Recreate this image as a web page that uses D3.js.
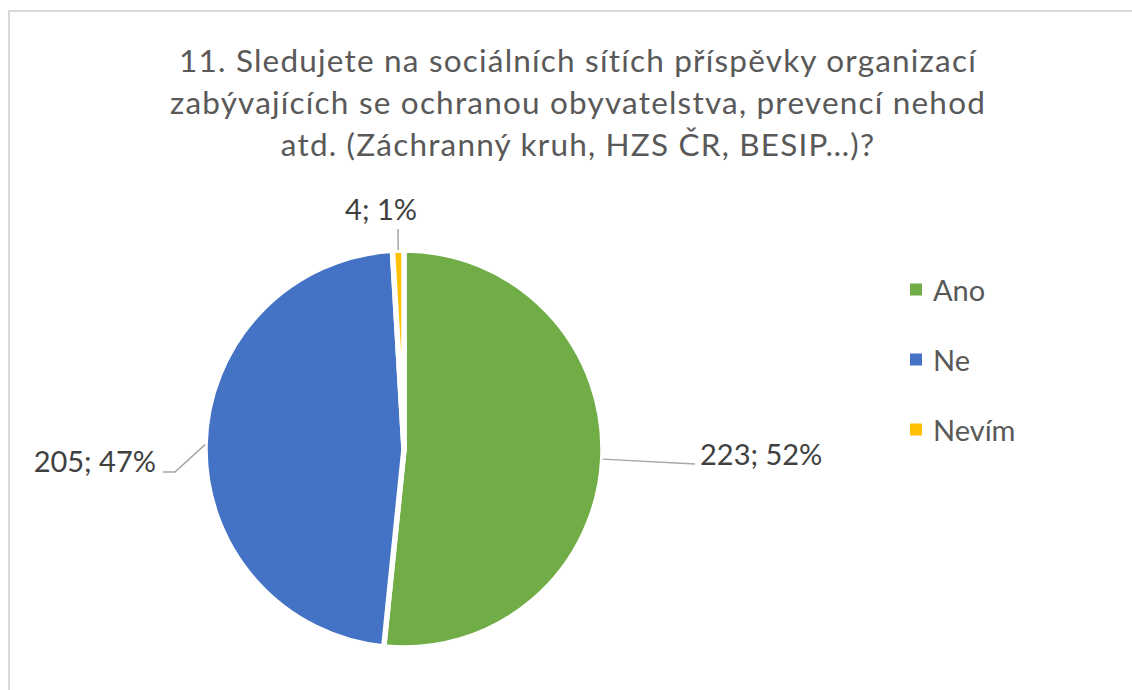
<!DOCTYPE html>
<html>
<head>
<meta charset="utf-8">
<script src="https://cdn.jsdelivr.net/npm/d3@7"></script>
<style>
  html, body { margin: 0; padding: 0; background: #fff; }
  svg { display: block; font-family: Lato, "Open Sans", sans-serif; }
</style>
</head>
<body>
<div id="container"></div>
<script>
// data
const categories = ["Ano", "Ne", "Nevím"];
const counts = [223, 205, 4];
const percents = ["52%", "47%", "1%"];
const colors = ["#70AD47", "#4472C4", "#FFC000"];
const titleLines = [
    "11. Sledujete na sociálních sítích příspěvky organizací",
    "zabývajících se ochranou obyvatelstva, prevencí nehod",
    "atd. (Záchranný kruh, HZS ČR, BESIP…)?"
];

const width = 1132;
const height = 690;
const cx = 404, cy = 449, radius = 199;

const svg = d3.select("#container").append("svg")
    .attr("width", width)
    .attr("height", height);

// chart area border (only top and left visible in the crop)
svg.append("rect")
    .attr("x", 9).attr("y", 11)
    .attr("width", width + 20).attr("height", height + 20)
    .attr("fill", "#fff")
    .attr("stroke", "#d9d9d9")
    .attr("stroke-width", 2);

// title
svg.append("text")
    .attr("text-anchor", "middle")
    .attr("fill", "#595959")
    .style("font-size", "31.5px")
    .style("letter-spacing", "1.2px")
    .selectAll("tspan")
    .data(titleLines)
    .join("tspan")
    .attr("x", 578)
    .attr("y", (d, i) => 72 + i * 42)
    .text(d => d);

const pie = d3.pie().sort(null).value(d => d)(counts);
const arc = d3.arc().innerRadius(0).outerRadius(radius);

const g = svg.append("g").attr("transform", `translate(${cx},${cy})`);
g.selectAll("path")
    .data(pie)
    .join("path")
    .attr("d", arc)
    .attr("fill", (d, i) => colors[i])
    .attr("stroke", "#fff")
    .attr("stroke-width", 5.5)
    .attr("stroke-linejoin", "round");

// data labels with leader lines
const labelLayout = [
    { bend: [291, 15], end: [291, 15], x: 296, y: 16, anchor: "start" },
    { bend: [-229, 23], end: [-241, 23], x: -248, y: 23, anchor: "end" },
    { bend: [-6, -220], end: [-6, -220], x: -23, y: -229, anchor: "middle" }
];
const edge = d3.arc().innerRadius(radius).outerRadius(radius);

pie.forEach((d, i) => {
    const L = labelLayout[i];
    const [ex, ey] = edge.centroid(d);
    g.append("polyline")
        .attr("points", [[ex, ey], L.bend, L.end].map(p => p.join(",")).join(" "))
        .attr("fill", "none")
        .attr("stroke", "#a6a6a6")
        .attr("stroke-width", 1.5);
    g.append("text")
        .attr("x", L.x)
        .attr("y", L.y)
        .attr("text-anchor", L.anchor)
        .attr("fill", "#404040")
        .style("font-size", "29px")
        .text(`${counts[i]}; ${percents[i]}`);
});

// legend
const legend = svg.append("g")
    .selectAll("g")
    .data(categories)
    .join("g")
    .attr("transform", (d, i) => `translate(910,${290 + i * 70})`);

legend.append("rect")
    .attr("x", 0).attr("y", -6.5)
    .attr("width", 12).attr("height", 12)
    .attr("fill", (d, i) => colors[i]);

legend.append("text")
    .attr("x", 23)
    .attr("y", 10.5)
    .attr("fill", "#595959")
    .style("font-size", "29px")
    .text(d => d);
</script>
</body>
</html>
